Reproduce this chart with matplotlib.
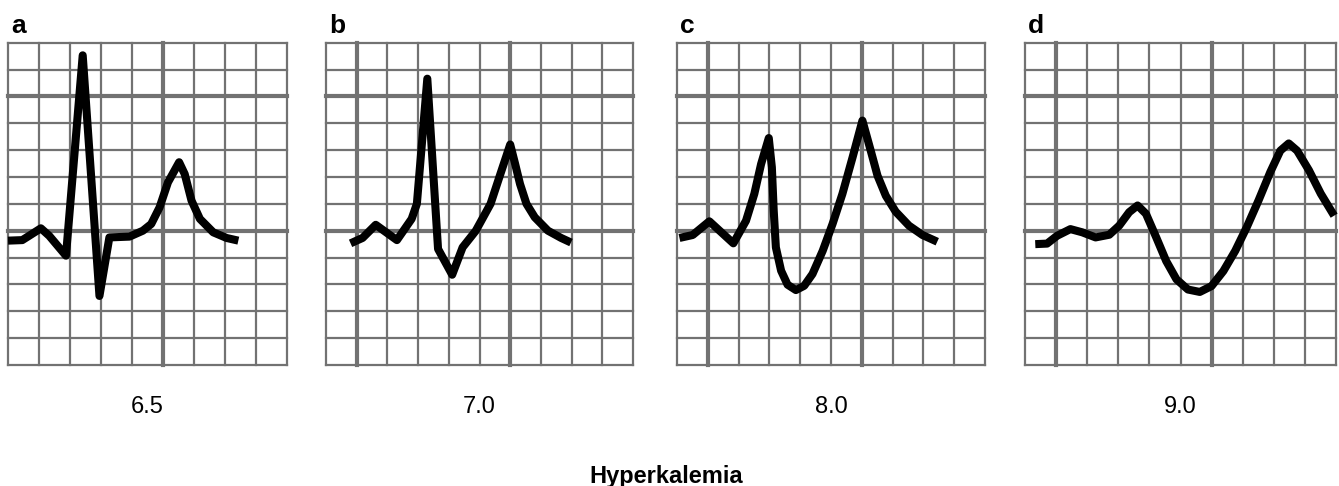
##### ECG sketches of hyperkalemia, four panels #####
import matplotlib.pyplot as plt

plt.rcParams['font.family'] = ['Liberation Sans', 'DejaVu Sans']

##### Data (grid units: x in small boxes, y in boxes above baseline) #####
panel_letters = ['a', 'b', 'c', 'd']
potassium_labels = ['6.5', '7.0', '8.0', '9.0']
title_text = 'Hyperkalemia'

trace_a_x = [1.0, 1.46, 1.68, 2.06, 2.33, 2.87, 3.41, 3.95, 4.27, 4.92, 5.35, 5.62, 5.89, 6.16,
             6.52, 6.70, 6.92, 7.19, 7.62, 8.05, 8.43]
trace_a_y = [-0.37, -0.35, -0.19, 0.09, -0.19, -0.93, 6.53, -2.43, -0.25, -0.22, 0.0, 0.25, 0.87, 1.80,
             2.55, 2.11, 1.12, 0.44, -0.06, -0.27, -0.37]

trace_b_x = [0.80, 1.19, 1.62, 2.31, 2.79, 2.96, 3.30, 3.65, 4.11, 4.45, 4.88, 5.36, 5.68, 6.0,
             6.16, 6.32, 6.53, 6.80, 7.23, 7.66, 7.98]
trace_b_y = [-0.47, -0.27, 0.22, -0.35, 0.44, 1.0, 5.66, -0.68, -1.64, -0.62, 0.0, 1.0, 2.11, 3.21,
             2.49, 1.74, 1.0, 0.5, 0.0, -0.27, -0.44]

trace_c_x = [0.08, 0.51, 1.05, 1.83, 2.24, 2.51, 2.73, 2.98, 3.08, 3.14, 3.21, 3.38, 3.59, 3.86,
             4.13, 4.40, 4.73, 5.05, 5.37, 5.70, 6.02, 6.29, 6.51, 6.78, 7.10, 7.53, 7.97, 8.45]
trace_c_y = [-0.27, -0.16, 0.35, -0.47, 0.37, 1.37, 2.48, 3.45, 2.36, 0.75, -0.62, -1.49, -2.01, -2.21,
             -2.05, -1.61, -0.75, 0.25, 1.37, 2.73, 4.10, 2.98, 2.05, 1.30, 0.71, 0.19, -0.16, -0.41]

trace_d_x = [0.33, 0.71, 1.03, 1.46, 1.84, 2.27, 2.71, 3.03, 3.35, 3.62, 3.89, 4.22, 4.54, 4.87,
             5.24, 5.62, 6.0, 6.38, 6.76, 7.13, 7.51, 7.89, 8.21, 8.48, 8.75, 9.13, 9.51, 9.94]
trace_d_y = [-0.5, -0.48, -0.19, 0.06, -0.06, -0.25, -0.15, 0.19, 0.69, 0.94, 0.63, -0.25, -1.13, -1.81,
             -2.19, -2.28, -2.06, -1.5, -0.75, 0.13, 1.13, 2.19, 2.98, 3.25, 2.98, 2.25, 1.38, 0.56]

traces = [(trace_a_x, trace_a_y), (trace_b_x, trace_b_y),
          (trace_c_x, trace_c_y), (trace_d_x, trace_d_y)]

##### Layout (pixels of the 1339x486 figure) #####
W, H = 1339, 486
panel_left_px = [8, 326, 677, 1025]
panel_right_px = [287, 633, 985, 1336]
panel_xlims = [(1, 10), (0, 10), (0, 10), (0, 10)]
top_px, bottom_px = 42.7, 365
YMIN, YMAX = -5, 7

GRID_COLOR = '#727272'
THIN_LW = 1.6
THICK_LW = 3.0
TRACE_LW = 5.8

fig = plt.figure(figsize=(W / 100, H / 100), dpi=100)

for i in range(4):
    left = panel_left_px[i] / W
    width = (panel_right_px[i] - panel_left_px[i]) / W
    bottom = 1 - bottom_px / H
    height = (bottom_px - top_px) / H
    ax = fig.add_axes([left, bottom, width, height])
    x0, x1 = panel_xlims[i]
    ax.set_xlim(x0, x1)
    ax.set_ylim(YMIN, YMAX)
    ax.axis('off')

    # grid: thick every 5 boxes (x = 1, 6 and y = 0, 5)
    for gx in range(x0, x1 + 1):
        thick = gx in (1, 6) and not (i == 0 and gx == 1)
        ax.axvline(gx, color=GRID_COLOR, lw=THICK_LW if thick else THIN_LW, clip_on=False, zorder=1)
    for gy in range(YMIN, YMAX + 1):
        thick = gy in (0, 5)
        ax.axhline(gy, color=GRID_COLOR, lw=THICK_LW if thick else THIN_LW, clip_on=False, zorder=1)

    tx, ty = traces[i]
    ax.plot(tx, ty, color='black', lw=TRACE_LW, solid_joinstyle='round',
            solid_capstyle='butt', zorder=3, clip_on=False)

    # panel letter
    fig.text((panel_left_px[i] + 3) / W, 1 - 33 / H, panel_letters[i],
             fontsize=19, fontweight='bold', ha='left', va='baseline')
    # potassium value under panel
    fig.text((panel_left_px[i] + panel_right_px[i]) / 2 / W, 1 - 407 / H,
             potassium_labels[i], fontsize=17, ha='center', va='center')

fig.text(666 / W, 1 - 476 / H, title_text, fontsize=17, fontweight='bold',
         ha='center', va='center')

plt.savefig('out.png', dpi=100)
plt.close()
